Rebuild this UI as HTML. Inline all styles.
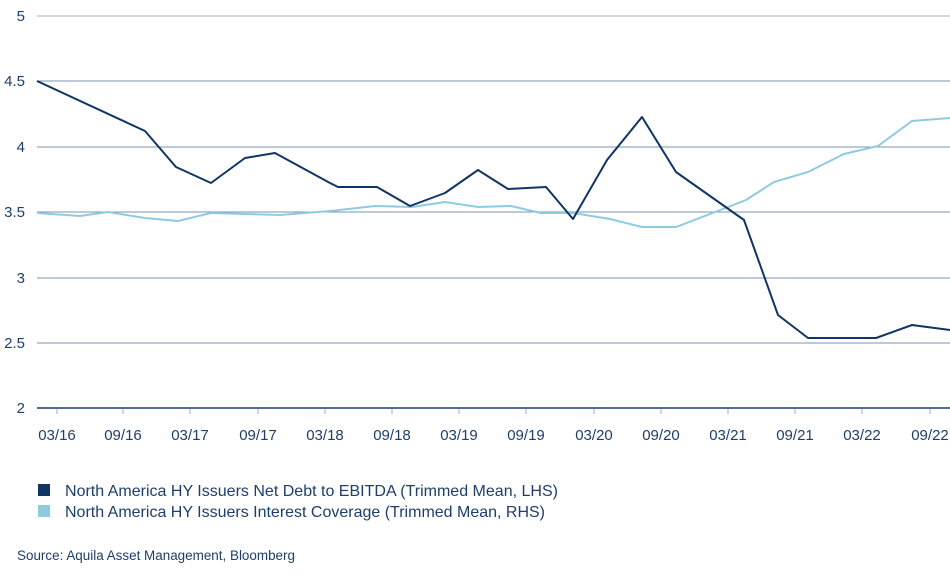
<!DOCTYPE html>
<html><head><meta charset="utf-8"><style>
body{margin:0;background:#fff;width:950px;height:579px;overflow:hidden;font-family:"Liberation Sans",sans-serif;color:#0f3564}
svg text{font-family:"Liberation Sans",sans-serif;fill:#1d3f6b}
</style></head><body>
<svg width="950" height="579" xmlns="http://www.w3.org/2000/svg">
<g stroke="#c9ccd6" stroke-width="1.5">
<line x1="37" y1="16" x2="950" y2="16"/>
</g>
<g stroke="#7d93b0" stroke-width="1">
<line x1="37" y1="81" x2="950" y2="81"/>
<line x1="37" y1="147" x2="950" y2="147"/>
<line x1="37" y1="212" x2="950" y2="212"/>
<line x1="37" y1="278" x2="950" y2="278"/>
<line x1="37" y1="343" x2="950" y2="343"/>
</g>
<line x1="37" y1="408" x2="950" y2="408" stroke="#1d3f6b" stroke-width="1.5"/>
<g stroke="#bbb" stroke-width="1.2">
<line x1="57" y1="409" x2="57" y2="414"/><line x1="123" y1="409" x2="123" y2="414"/><line x1="190" y1="409" x2="190" y2="414"/><line x1="258" y1="409" x2="258" y2="414"/><line x1="325" y1="409" x2="325" y2="414"/><line x1="392" y1="409" x2="392" y2="414"/><line x1="459" y1="409" x2="459" y2="414"/><line x1="526" y1="409" x2="526" y2="414"/><line x1="594" y1="409" x2="594" y2="414"/><line x1="661" y1="409" x2="661" y2="414"/><line x1="728" y1="409" x2="728" y2="414"/><line x1="795" y1="409" x2="795" y2="414"/><line x1="862" y1="409" x2="862" y2="414"/><line x1="930" y1="409" x2="930" y2="414"/>
</g>
<g font-size="15" text-anchor="end">
<text x="25" y="21">5</text><text x="25" y="86">4.5</text><text x="25" y="152">4</text><text x="25" y="217">3.5</text><text x="25" y="283">3</text><text x="25" y="348">2.5</text><text x="25" y="413">2</text>
</g>
<g font-size="15" text-anchor="middle">
<text x="57" y="440">03/16</text><text x="123" y="440">09/16</text><text x="190" y="440">03/17</text><text x="258" y="440">09/17</text><text x="325" y="440">03/18</text><text x="392" y="440">09/18</text><text x="459" y="440">03/19</text><text x="526" y="440">09/19</text><text x="594" y="440">03/20</text><text x="661" y="440">09/20</text><text x="728" y="440">03/21</text><text x="795" y="440">09/21</text><text x="862" y="440">03/22</text><text x="930" y="440">09/22</text>
</g>
<polyline fill="none" stroke="#8fcbe0" stroke-width="2" points="37,213 80,216 108,212 145,218 178,221 211,213 280,215 330,211 375,206 412,207 445,202 478,207 511,206 541,213 573,213 610,219 642,227 676,227 710,214 746,200 774,182 808,172 844,154 878,146 912,121 950,118"/>
<polyline fill="none" stroke="#0f3564" stroke-width="2" stroke-linejoin="round" points="37,81 145,131 176,167 211,183 245,158 275,153 330,183 338,187 377,187 410,206 445,193 478,170 508,189 546,187 573,219 607,160 642,117 676,172 744,220 778,315 808,338 876,338 912,325 950,330"/>
<rect x="38" y="484" width="12" height="12" fill="#0f3564"/>
<rect x="38" y="505" width="12" height="12" fill="#8fcbe0"/>
<g font-size="16" textLength="493">
<text x="65" y="496" textLength="493" lengthAdjust="spacingAndGlyphs">North America HY Issuers Net Debt to EBITDA (Trimmed Mean, LHS)</text>
<text x="65" y="517" textLength="480" lengthAdjust="spacingAndGlyphs">North America HY Issuers Interest Coverage (Trimmed Mean, RHS)</text>
</g>
<text x="17" y="560" font-size="13.5" textLength="278" lengthAdjust="spacingAndGlyphs">Source: Aquila Asset Management, Bloomberg</text>
</svg>
</body></html>
